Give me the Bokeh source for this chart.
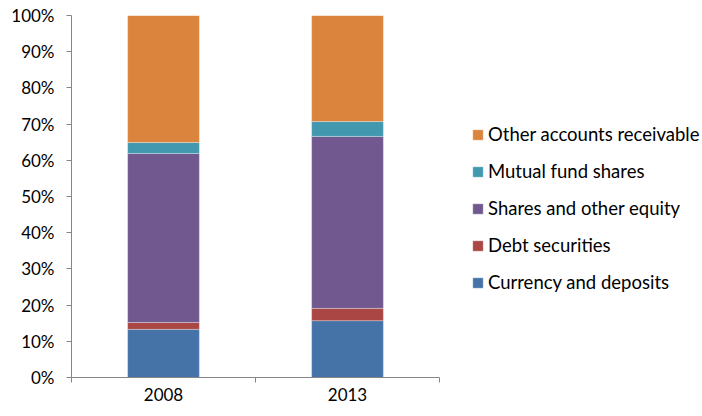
from bokeh.plotting import figure
from bokeh.models import (ColumnDataSource, Range1d, FixedTicker, PrintfTickFormatter,
                          Legend, LegendItem)
from bokeh.embed import file_html
from bokeh.resources import INLINE

years = ["2008", "2013"]
series = ["Currency and deposits", "Debt securities", "Shares and other equity",
          "Mutual fund shares", "Other accounts receivable"]
currency = [13.3, 15.7]
debt = [1.9, 3.4]
shares = [46.7, 47.5]
mutual = [3.0, 4.1]
other = [35.1, 29.3]
colors = ["#4573A7", "#AA4643", "#71588F", "#4198AF", "#DB843D"]
y_ticks = [0, 10, 20, 30, 40, 50, 60, 70, 80, 90, 100]

FONT = "Lato"

xs = [i + 0.5 for i in range(len(years))]
keys = ["currency", "debt", "shares", "mutual", "other"]
source = ColumnDataSource(dict(x=xs, currency=currency, debt=debt, shares=shares,
                               mutual=mutual, other=other))

# frame spans to the right edge so the legend can live inside it;
# the x axis line is limited to the category span via bounds
p = figure(width=702, height=416, output_backend="svg", toolbar_location=None,
           x_range=Range1d(0, 631 / 184), y_range=Range1d(0, 100),
           min_border_left=71, min_border_right=0, min_border_top=15, min_border_bottom=39)
p.outline_line_color = None
p.xgrid.visible = False
p.ygrid.visible = False
p.background_fill_color = "white"
p.border_fill_color = "white"

rs = p.vbar_stack(keys, x="x", width=0.39, color=colors, source=source,
                  line_color="white", line_alpha=0.3, line_width=1)

# x axis: labels at category centres, ticks at category boundaries
xa = p.xaxis[0]
xa.bounds = (0, len(years))
xa.ticker = FixedTicker(ticks=xs, minor_ticks=list(range(len(years) + 1)))
xa.major_label_overrides = {x: y for x, y in zip(xs, years)}
xa.major_tick_out = 0
xa.major_tick_in = 0
xa.minor_tick_out = 5
xa.minor_tick_in = 0
xa.minor_tick_line_color = "#868686"
xa.axis_line_color = "#868686"
xa.major_label_standoff = 5
xa.major_label_text_font = FONT
xa.major_label_text_font_size = "17px"
xa.major_label_text_color = "#000000"

ya = p.yaxis[0]
ya.ticker = FixedTicker(ticks=y_ticks, minor_ticks=[])
ya.formatter = PrintfTickFormatter(format="%d%%")
ya.major_tick_out = 5
ya.major_tick_in = 0
ya.major_tick_line_color = "#868686"
ya.axis_line_color = "#868686"
ya.major_label_standoff = 12
ya.major_label_text_font = FONT
ya.major_label_text_font_size = "17px"
ya.major_label_text_color = "#000000"

items = [LegendItem(label=s, renderers=[r]) for s, r in zip(series, rs)][::-1]
legend = Legend(items=items, location=(400, 84), padding=0, margin=0,
                border_line_color=None, background_fill_alpha=0,
                glyph_width=13, glyph_height=13, label_height=21, spacing=15,
                label_standoff=4, label_text_font=FONT, label_text_font_size="18.5px",
                label_text_color="#000000")
p.add_layout(legend)

open("out.html", "w").write(file_html(p, INLINE))
